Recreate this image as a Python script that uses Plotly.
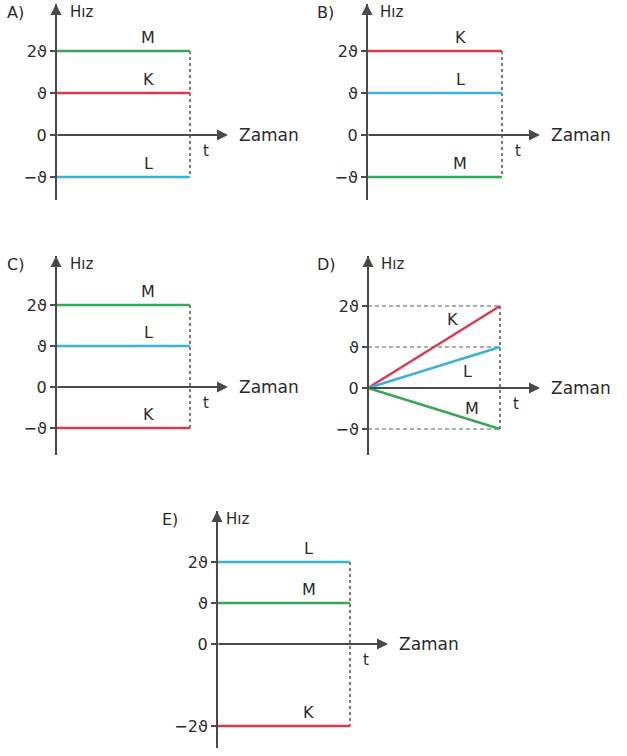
import plotly.graph_objects as go

W, H = 627, 756

PANELS = ["A", "B", "C", "D", "E"]
SERIES = ["K", "L", "M"]
TIME = [0, 1]

# hız değerleri (ϑ cinsinden), sıra: K, L, M
VALUES_A = [1, -1, 2]
VALUES_B = [2, 1, -1]
VALUES_C = [-1, 1, 2]
VALUES_D = [2, 1, -1]   # t anındaki hızlar, hepsi 0'dan başlıyor
VALUES_E = [-2, 2, 1]

TICK_VALS = [2, 1, 0, -1]
TICK_TEXT = ["2ϑ", "ϑ", "0", "−ϑ"]
TICK_VALS_E = [2, 1, 0, -2]
TICK_TEXT_E = ["2ϑ", "ϑ", "0", "−2ϑ"]

COLORS = {"K": "#d93a50", "L": "#3cb2da", "M": "#3aa45c"}
AXIS_COLOR = "#4a4a4a"
TEXT_COLOR = "#2a2a2a"
FONT = "DejaVu Sans"

# referans görüntüdeki piksel geometrisi: kutu, orijin, birim uzunluklar, eksen uçları
GEOM = {
    "A": dict(box=(0, 305), ox=56, oy=135, ux=134, uy=42, ytop=4, ybot=200, xend=228),
    "B": dict(box=(310, 627), ox=367, oy=135, ux=135, uy=42, ytop=4, ybot=200, xend=540),
    "C": dict(box=(0, 305), ox=56, oy=387, ux=134, uy=41, ytop=256, ybot=455, xend=228),
    "D": dict(box=(310, 627), ox=368, oy=388, ux=132, uy=41, ytop=256, ybot=455, xend=540),
    "E": dict(box=(150, 480), ox=217, oy=644, ux=133, uy=41, ytop=511, ybot=748, xend=388),
}
D_LABEL_POS = {"K": (0.64, 1.66), "L": (0.75, 0.41), "M": (0.79, -0.49)}
LETTER_DX = {"A": -51, "B": -52, "C": -51, "D": -53, "E": -57}
HIZ_DX = {"A": 12, "B": 11, "C": 12, "D": 11, "E": 7}

panel_values = {"A": VALUES_A, "B": VALUES_B, "C": VALUES_C, "D": VALUES_D, "E": VALUES_E}

fig = go.Figure()
annotations = []
layout = {}

for i, p in enumerate(PANELS, start=1):
    g = GEOM[p]
    sfx = "" if i == 1 else str(i)
    xr, yr = "x" + sfx, "y" + sfx
    vals = panel_values[p]
    ox, oy, ux, uy = g["ox"], g["oy"], g["ux"], g["uy"]
    bx0, bx1 = g["box"]
    ytop, ybot = g["ytop"], g["ybot"]
    y_lo = (oy - ybot) / uy
    y_hi = (oy - ytop) / uy
    x_end = (g["xend"] - ox) / ux

    layout["xaxis" + sfx] = dict(
        domain=[bx0 / W, bx1 / W],
        range=[(bx0 - ox) / ux, (bx1 - ox) / ux],
        visible=False, fixedrange=True, anchor=yr,
    )
    tv, tt = (TICK_VALS_E, TICK_TEXT_E) if p == "E" else (TICK_VALS, TICK_TEXT)
    layout["yaxis" + sfx] = dict(
        domain=[1 - ybot / H, 1 - ytop / H],
        range=[y_lo, y_hi],
        anchor="free", position=ox / W,
        showline=True, linecolor=AXIS_COLOR, linewidth=2,
        ticks="outside", ticklen=5, tickwidth=1.5, tickcolor=AXIS_COLOR,
        tickvals=tv, ticktext=tt,
        tickfont=dict(family=FONT, size=16, color=TEXT_COLOR),
        showgrid=False, zeroline=False, fixedrange=True,
    )

    # D şıkkındaki kesikli yardımcı çizgiler
    if p == "D":
        for v in vals:
            fig.add_trace(go.Scatter(
                x=TIME, y=[v, v], xaxis=xr, yaxis=yr, mode="lines",
                line=dict(color="#5a5a5a", width=1.2, dash="4px,3px"),
                showlegend=False, hoverinfo="skip"))

    # t anındaki noktalı dikey çizgi
    fig.add_trace(go.Scatter(
        x=[TIME[1], TIME[1]], y=[max(vals), min(vals)], xaxis=xr, yaxis=yr,
        mode="lines", line=dict(color="#444444", width=1.4, dash="dot"),
        showlegend=False, hoverinfo="skip"))

    for name, v in zip(SERIES, vals):
        y = [0, v] if p == "D" else [v, v]
        fig.add_trace(go.Scatter(
            x=TIME, y=y, xaxis=xr, yaxis=yr, mode="lines", name=name,
            line=dict(color=COLORS[name], width=2.5), showlegend=False))
        if p == "D":
            lx, ly = D_LABEL_POS[name]
            annotations.append(dict(x=lx, y=ly, xref=xr, yref=yr, text=name, showarrow=False,
                                    font=dict(family=FONT, size=16, color=TEXT_COLOR)))
        else:
            annotations.append(dict(x=0.69, y=v, xref=xr, yref=yr, text=name, showarrow=False,
                                    yshift=14, font=dict(family=FONT, size=16, color=TEXT_COLOR)))

    # eksen okları
    annotations.append(dict(x=x_end, y=0, ax=0, ay=0, xref=xr, yref=yr, axref=xr, ayref=yr,
                            text="", showarrow=True, arrowhead=2, arrowsize=1.1, arrowwidth=2,
                            arrowcolor=AXIS_COLOR, standoff=0, startstandoff=0))
    annotations.append(dict(x=0, y=y_hi, ax=0, ay=y_hi - 0.3, xref=xr, yref=yr, axref=xr, ayref=yr,
                            text="", showarrow=True, arrowhead=2, arrowsize=1.1, arrowwidth=2,
                            arrowcolor=AXIS_COLOR, standoff=0, startstandoff=0))

    # metinler
    annotations.append(dict(x=x_end + 9 / ux, y=0, xref=xr, yref=yr, text="Zaman",
                            xanchor="left", showarrow=False,
                            font=dict(family=FONT, size=17, color=TEXT_COLOR)))
    annotations.append(dict(x=TIME[1] + 16 / ux, y=0, yshift=-16, xref=xr, yref=yr, text="t",
                            showarrow=False, font=dict(family=FONT, size=15, color=TEXT_COLOR)))
    annotations.append(dict(x=HIZ_DX[p] / ux, y=y_hi - 8 / uy, xref=xr, yref=yr, text="Hız",
                            xanchor="left", showarrow=False,
                            font=dict(family=FONT, size=15, color=TEXT_COLOR)))
    annotations.append(dict(x=LETTER_DX[p] / ux, y=y_hi - 8 / uy, xref=xr, yref=yr, text=p + ")",
                            xanchor="left", showarrow=False,
                            font=dict(family=FONT, size=16, color=TEXT_COLOR)))

fig.update_layout(
    width=W, height=H,
    margin=dict(l=0, r=0, t=0, b=0),
    paper_bgcolor="white", plot_bgcolor="rgba(0,0,0,0)",
    annotations=annotations,
    **layout,
)

# sayfanın varsayılan 8px kenar boşluğunu kaldır, araç çubuğunu gizle
fig.write_html("out.html", config={"displayModeBar": False},
               post_script="document.body.style.margin='0';")
